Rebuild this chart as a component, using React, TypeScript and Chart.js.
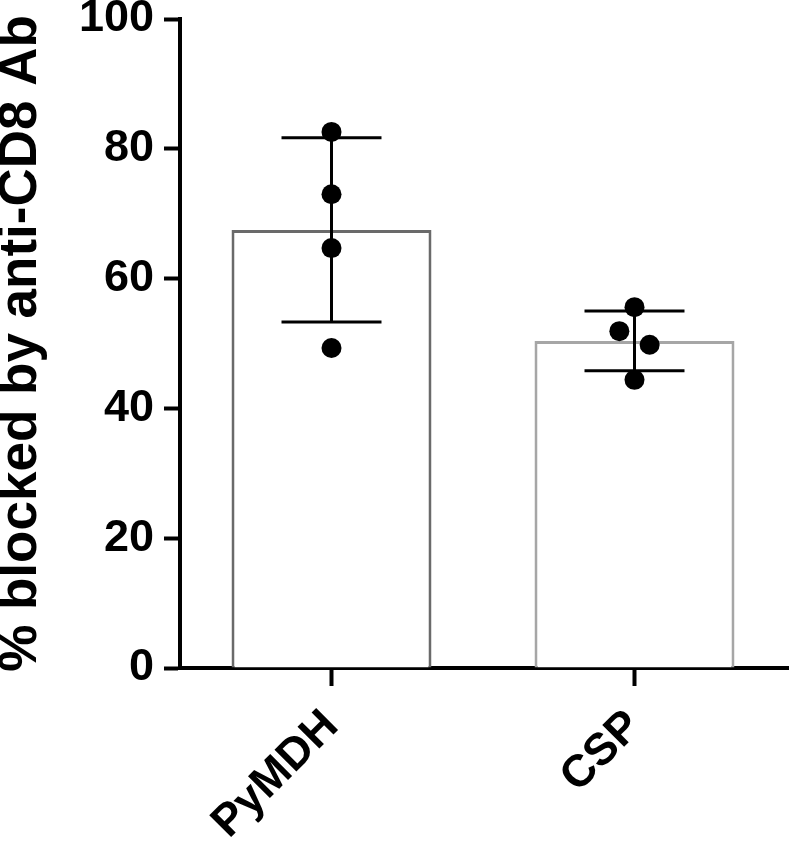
import React, { useEffect, useRef } from "react";
import { Chart, registerables } from "chart.js";
Chart.register(...registerables);

const categories = ["PyMDH", "CSP"];
const barMeans = [67.5, 50.4];
const errorSD = [14.2, 4.6];
const pymdhPoints = [82.6, 73.0, 64.7, 49.3];
const cspPoints = [55.6, 51.9, 49.8, 44.4];
const pymdhJitter = [0, 0, 0, 0];
const cspJitter = [0, -0.05, 0.05, 0];
const yMin = 0;
const yMax = 100;
const yStep = 20;
const yTitle = "% blocked by anti-CD8 Ab";
const barBorderColors = ["#6a6a6a", "#a6a6a6"];

const FONT = "'Liberation Sans', Arial, Helvetica, sans-serif";
const CANVAS_W = 796;
const VIEW_W = 789;

const errorBarPlugin = {
  id: "errorBars",
  afterDatasetsDraw(chart: any) {
    const { ctx } = chart;
    const y = chart.scales.y;
    const x2 = chart.scales.x2;
    ctx.save();
    ctx.strokeStyle = "#000";
    ctx.lineWidth = 3;
    ctx.lineCap = "butt";
    barMeans.forEach((m, i) => {
      const cx = x2.getPixelForValue(i);
      const top = y.getPixelForValue(m + errorSD[i]);
      const bot = y.getPixelForValue(m - errorSD[i]);
      const l = x2.getPixelForValue(i - 0.165);
      const r = x2.getPixelForValue(i + 0.165);
      ctx.beginPath();
      ctx.moveTo(cx, top);
      ctx.lineTo(cx, bot);
      ctx.moveTo(l, top);
      ctx.lineTo(r, top);
      ctx.moveTo(l, bot);
      ctx.lineTo(r, bot);
      ctx.stroke();
    });
    ctx.restore();
  },
  afterDraw(chart: any) {
    // extend the x axis baseline to the image's right edge
    const { ctx } = chart;
    const yb = chart.scales.y.getPixelForValue(yMin);
    ctx.save();
    ctx.strokeStyle = "#000";
    ctx.lineWidth = 4;
    ctx.beginPath();
    ctx.moveTo(chart.chartArea.right - 1, yb);
    ctx.lineTo(CANVAS_W, yb);
    ctx.stroke();
    ctx.restore();
  },
};

export default function App() {
  const ref = useRef<HTMLCanvasElement | null>(null);
  useEffect(() => {
    if (!ref.current) return;
    const scatterData = [
      ...pymdhPoints.map((v, j) => ({ x: 0 + pymdhJitter[j], y: v })),
      ...cspPoints.map((v, j) => ({ x: 1 + cspJitter[j], y: v })),
    ];
    const chart = new Chart(ref.current, {
      type: "bar",
      data: {
        labels: categories,
        datasets: [
          {
            type: "bar",
            data: barMeans,
            backgroundColor: "#ffffff",
            borderColor: barBorderColors,
            borderWidth: 3,
            barPercentage: 0.66,
            categoryPercentage: 1,
            grouped: false,
            order: 2,
          } as any,
          {
            type: "scatter",
            data: scatterData,
            xAxisID: "x2",
            pointRadius: 10,
            pointBackgroundColor: "#000",
            pointBorderWidth: 0,
            order: 1,
          } as any,
        ],
      },
      options: {
        animation: false,
        responsive: false,
        layout: { padding: { top: 19, right: 0, left: 0, bottom: 0 } },
        plugins: { legend: { display: false }, tooltip: { enabled: false } },
        scales: {
          x: {
            type: "category",
            offset: true,
            grid: {
              offset: false,
              drawOnChartArea: false,
              drawTicks: true,
              tickLength: 18,
              tickWidth: 4,
              tickColor: "#000",
            },
            border: { display: true, width: 4, color: "#000" },
            ticks: {
              color: "#000",
              font: { family: FONT, size: 45, weight: "bold" },
              maxRotation: 45,
              minRotation: 45,
              padding: 14,
            },
            afterFit(s: any) {
              s.height = 176;
              s.paddingLeft = 0;
              s.paddingRight = 0;
            },
          },
          x2: {
            type: "linear",
            position: "top",
            min: -0.5,
            max: 1.5,
            offset: false,
            display: true,
            ticks: { display: false },
            grid: { display: false, drawTicks: false, offset: false },
            border: { display: false },
            afterFit(s: any) {
              s.height = 0;
              s.paddingLeft = 0;
              s.paddingRight = 0;
            },
          },
          y: {
            min: yMin,
            max: yMax,
            ticks: {
              stepSize: yStep,
              color: "#000",
              font: { family: FONT, size: 45, weight: "bold" },
              padding: 10,
            },
            grid: {
              drawOnChartArea: false,
              drawTicks: true,
              tickLength: 16,
              tickWidth: 4,
              tickColor: "#000",
            },
            border: { display: true, width: 4, color: "#000" },
            title: {
              display: true,
              text: yTitle,
              color: "#000",
              font: { family: FONT, size: 53, weight: "bold", lineHeight: 0.81 },
              padding: 0,
            },
            afterFit(s: any) {
              s.width = 180;
              s.paddingTop = 0;
              s.paddingBottom = 0;
            },
          },
        },
      } as any,
      plugins: [errorBarPlugin],
    });
    return () => chart.destroy();
  }, []);
  return (
    <div style={{ position: "fixed", left: 0, top: 0, width: VIEW_W, height: 844, overflow: "hidden", background: "#fff" }}>
      <canvas ref={ref} width={CANVAS_W} height={844} style={{ display: "block" }} />
    </div>
  );
}
